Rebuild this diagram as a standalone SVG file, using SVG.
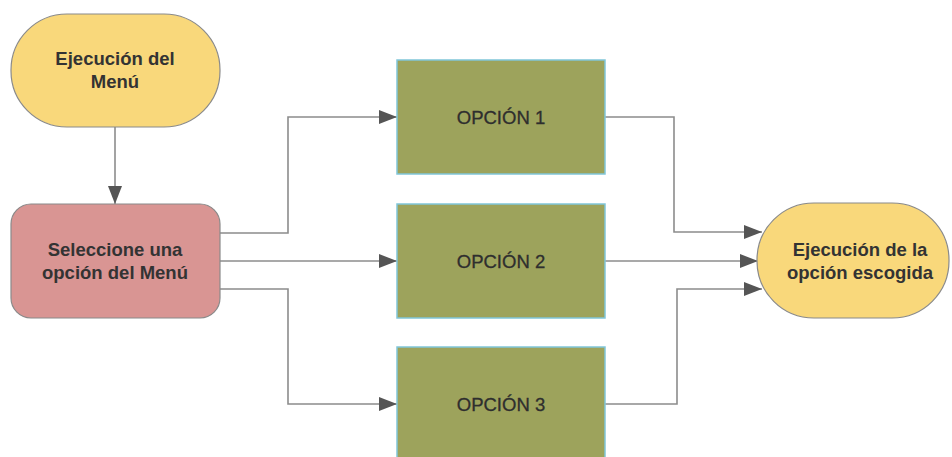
<svg xmlns="http://www.w3.org/2000/svg" width="952" height="457" viewBox="0 0 952 457">
<defs>
<style>
.term{fill:#F9D87B;stroke:#8a8a8a;stroke-width:1.2}
.sel{fill:#D99593;stroke:#8a8a8a;stroke-width:1.2}
.opt{fill:#9DA35C;stroke:#80C6D9;stroke-width:1.5}
.tb{font-family:"Liberation Sans",Arial,sans-serif;font-weight:bold;font-size:18.5px;fill:#333;text-anchor:middle}
.tr{font-family:"Liberation Sans",Arial,sans-serif;font-size:18.5px;fill:#2e2e2e;text-anchor:middle;stroke:#2e2e2e;stroke-width:0.3}
.ln{fill:none;stroke:#8c8c8c;stroke-width:1.6}
</style>
<marker id="ah" viewBox="0 0 18 14" refX="18" refY="7" markerWidth="18" markerHeight="14" markerUnits="userSpaceOnUse" orient="auto">
<path d="M0,0 L18,7 L0,14 Z" fill="#555"/>
</marker>
</defs>
<rect width="952" height="457" fill="#fff"/>
<g id="connectors">
<path class="ln" d="M115,127 V204" marker-end="url(#ah)"/>
<path class="ln" d="M220,233 H288 V117 H397" marker-end="url(#ah)"/>
<path class="ln" d="M220,261 H397" marker-end="url(#ah)"/>
<path class="ln" d="M220,289 H288 V404 H397" marker-end="url(#ah)"/>
<path class="ln" d="M605,117 H674 V232 H762" marker-end="url(#ah)"/>
<path class="ln" d="M605,261 H758" marker-end="url(#ah)"/>
<path class="ln" d="M605,404 H677 V289 H762" marker-end="url(#ah)"/>
</g>
<g id="inicio">
<rect class="term" x="11" y="14" width="209" height="113" rx="56" ry="56"/>
<text class="tb" x="115" y="65">Ejecución del</text>
<text class="tb" x="115" y="88">Menú</text>
</g>
<g id="seleccione">
<rect class="sel" x="11" y="204" width="209" height="114" rx="20" ry="20"/>
<text class="tb" x="115" y="256">Seleccione una</text>
<text class="tb" x="115" y="279">opción del Menú</text>
</g>
<g id="opcion1">
<rect class="opt" x="397" y="60" width="208" height="114"/>
<text class="tr" x="501" y="124">OPCIÓN 1</text>
</g>
<g id="opcion2">
<rect class="opt" x="397" y="204" width="208" height="114"/>
<text class="tr" x="501" y="268">OPCIÓN 2</text>
</g>
<g id="opcion3">
<rect class="opt" x="397" y="347" width="208" height="114"/>
<text class="tr" x="501" y="411">OPCIÓN 3</text>
</g>
<g id="ejecucion">
<rect class="term" x="757" y="203" width="192" height="115" rx="57" ry="57"/>
<text class="tb" x="860" y="256">Ejecución de la</text>
<text class="tb" x="860" y="279">opción escogida</text>
</g>
</svg>
